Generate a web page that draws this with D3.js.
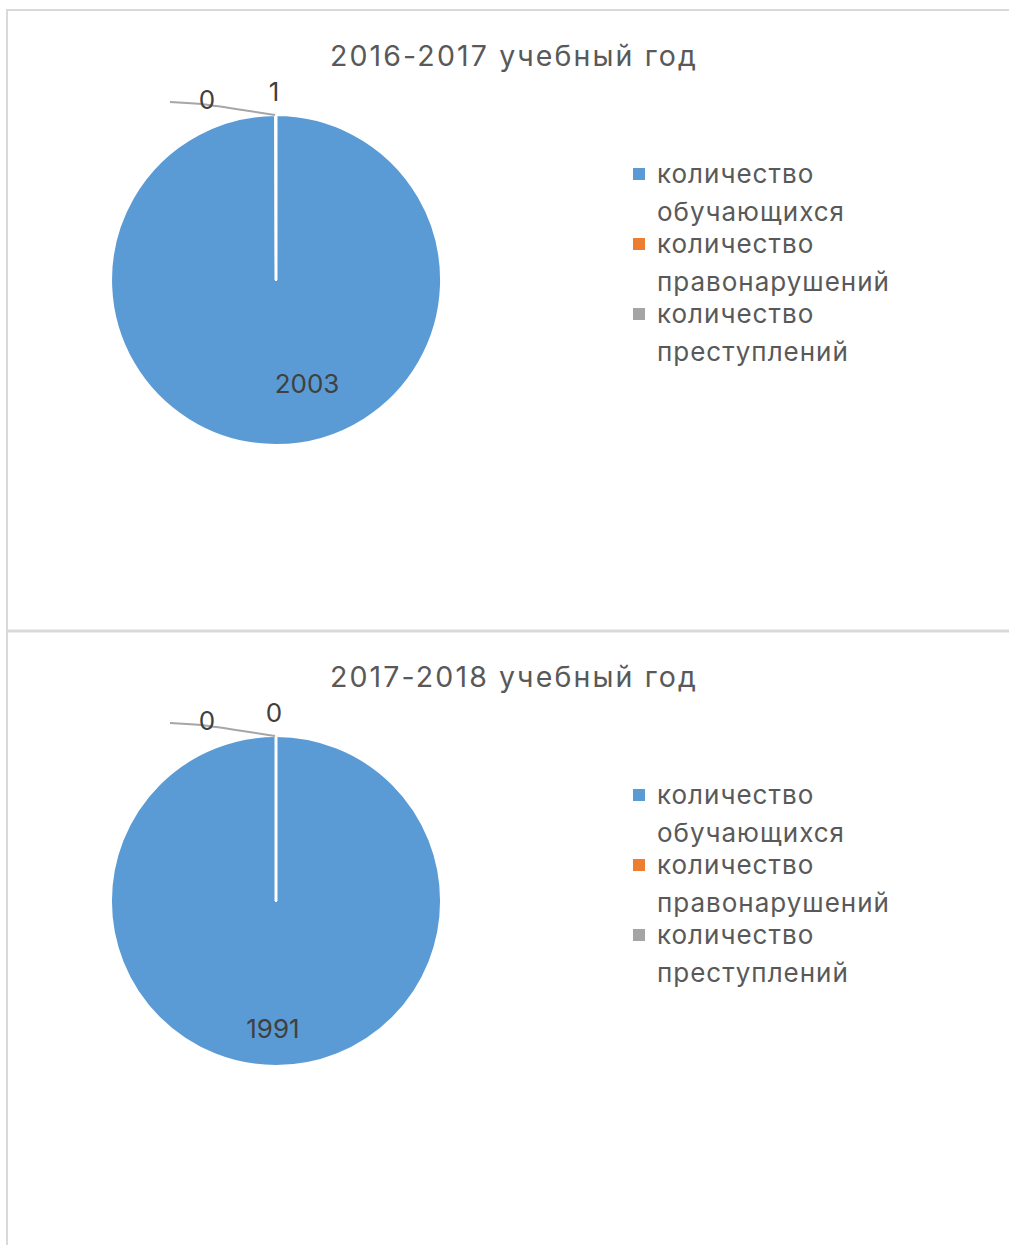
<!DOCTYPE html>
<html><head><meta charset="utf-8">
<script src="https://cdn.jsdelivr.net/npm/d3@7"></script>
<style>body{margin:0;background:#fff}svg{display:block}</style>
</head><body>
<script>
const categories = ["количество обучающихся", "количество правонарушений", "количество преступлений"];
const legendLines = [["количество", "обучающихся"], ["количество", "правонарушений"], ["количество", "преступлений"]];
const titles = ["2016-2017 учебный год", "2017-2018 учебный год"];
const values2016 = [2003, 0, 1];
const values2017 = [1991, 0, 0];
const colors = ["#5b9bd5", "#ed7d31", "#a5a5a5"];

const W = 1009, H = 1245;
const svg = d3.select("body").append("svg").attr("width", W).attr("height", H);
const font = "Inter, 'Open Sans', sans-serif";

// letter-spacing so that a sample string reaches a target width
function spacingFor(str, size, target) {
  const t = svg.append("text").attr("font-family", font).attr("font-size", size).text(str);
  const w = t.node().getComputedTextLength();
  t.remove();
  return Math.max(0, (target - w) / (str.length - 1));
}

// frames
const border = "#d9d9d9";
svg.append("line").attr("x1", 7).attr("x2", W).attr("y1", 10).attr("y2", 10).attr("stroke", border).attr("stroke-width", 2);
svg.append("line").attr("x1", 7).attr("x2", 7).attr("y1", 9).attr("y2", H).attr("stroke", border).attr("stroke-width", 2);
svg.append("line").attr("x1", 7).attr("x2", W).attr("y1", 631).attr("y2", 631).attr("stroke", border).attr("stroke-width", 3);

const titleSize = 28.5, legSize = 26, lblSize = 26;
const titleLS = spacingFor(titles[0], titleSize, 366);
const legLS = spacingFor("правонарушений", legSize, 232);
const lblLS = spacingFor("2003", lblSize, 64);

const panels = [
  {values: values2016, top: 0},
  {values: values2017, top: 621}
];
const color = d3.scaleOrdinal().domain(categories).range(colors);
const R = 165;
const arc = d3.arc().innerRadius(0).outerRadius(R);
const pie = d3.pie().sort(null).value(d => d.v);

panels.forEach((p, pi) => {
  const g = svg.append("g").attr("transform", `translate(0,${p.top})`);
  g.append("text").attr("x", 514).attr("y", 66).attr("text-anchor", "middle")
    .attr("font-family", font).attr("font-size", titleSize).attr("letter-spacing", titleLS).attr("fill", "#595959")
    .text(titles[pi]);
  const cx = 276, cy = 280;
  const pg = g.append("g").attr("transform", `translate(${cx},${cy})`);
  const data = categories.map((c, i) => ({c, v: p.values[i]}));
  const arcs = pie(data);
  pg.selectAll("path").data(arcs).enter().append("path")
    .attr("d", arc).attr("fill", d => color(d.data.c))
    .attr("stroke", "#fff").attr("stroke-width", 2).attr("stroke-linejoin", "round");
  // separator line at slice start (12 o'clock)
  pg.append("line").attr("x1", 0).attr("y1", 0).attr("x2", 0).attr("y2", -R - 1)
    .attr("stroke", "#fff").attr("stroke-width", 3);
  pg.append("text").attr("x", pi === 0 ? 31 : -3).attr("y", pi === 0 ? 113 : 137)
    .attr("text-anchor", "middle").attr("font-family", font).attr("font-size", lblSize)
    .attr("letter-spacing", lblLS).attr("fill", "#404040")
    .text(p.values[0]);
  // leader line for the 2nd slice label
  pg.append("path").attr("d", d3.line().curve(d3.curveBasis)([[-106, -178], [-80, -177], [-40, -171], [-1, -165]]))
    .attr("fill", "none").attr("stroke", "#a6a6a6").attr("stroke-width", 2);
  pg.append("text").attr("x", -69).attr("y", -171).attr("text-anchor", "middle")
    .attr("font-family", font).attr("font-size", lblSize).attr("fill", "#404040").text(p.values[1]);
  pg.append("text").attr("x", -2).attr("y", -179).attr("text-anchor", "middle")
    .attr("font-family", font).attr("font-size", lblSize).attr("fill", "#404040").text(p.values[2]);

  // legend
  const lg = g.append("g");
  categories.forEach((c, i) => {
    const y0 = 174 + i * 70;
    lg.append("rect").attr("x", 633).attr("y", y0 - 6).attr("width", 12).attr("height", 12).attr("fill", color(c));
    legendLines[i].forEach((t, j) => {
      lg.append("text").attr("x", 657).attr("y", y0 + 9 + j * 38)
        .attr("font-family", font).attr("font-size", legSize).attr("letter-spacing", legLS)
        .attr("fill", "#595959").text(t);
    });
  });
});
</script>
</body></html>
